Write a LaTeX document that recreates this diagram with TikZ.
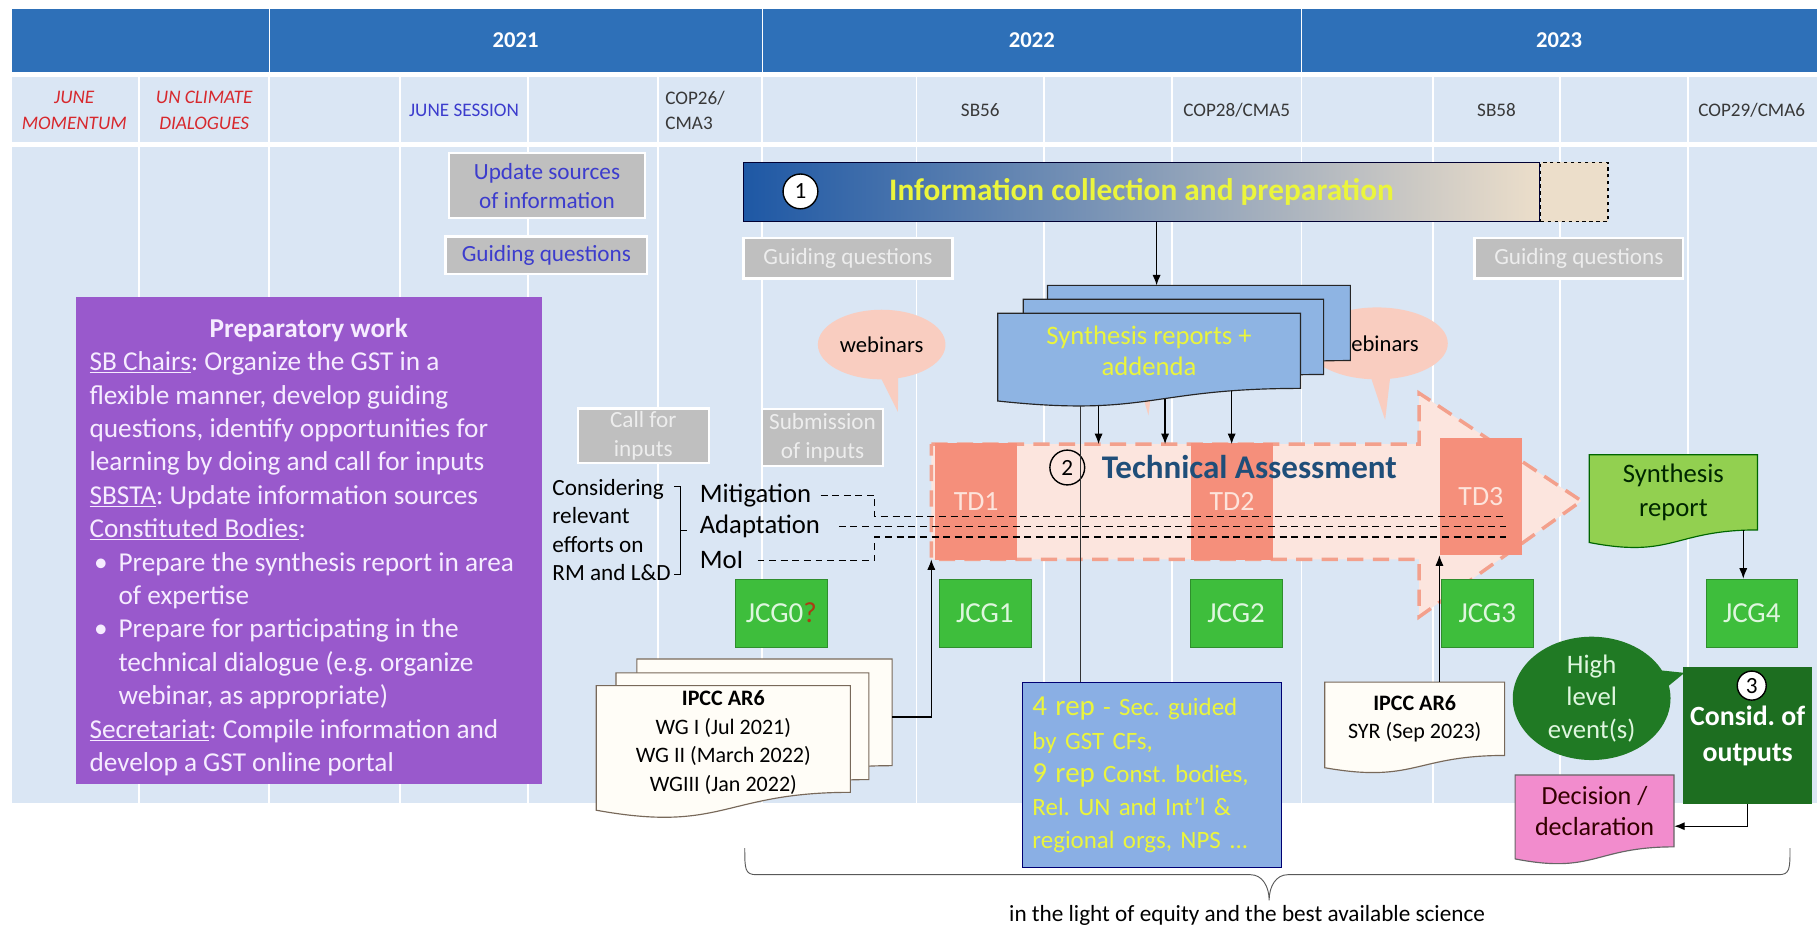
\documentclass[tikz,border=0pt]{standalone}
\usepackage{fontspec}
\setmainfont{Carlito}
\usetikzlibrary{arrows, arrows.meta, shapes, shapes.callouts, positioning}
\frenchspacing

\pgfdeclarelayer{grid}
\pgfdeclarelayer{shp}
\pgfsetlayers{grid,shp,main}

\definecolor{hdr}{RGB}{46,112,184}
\definecolor{lblue}{RGB}{218,230,244}
\definecolor{gbox}{RGB}{191,191,191}
\definecolor{qblue}{RGB}{60,60,205}
\definecolor{redl}{RGB}{215,40,45}
\definecolor{purp}{RGB}{153,89,204}
\definecolor{purptxt}{RGB}{246,236,255}
\definecolor{webp}{RGB}{249,205,192}
\definecolor{synfill}{RGB}{142,180,227}
\definecolor{yel}{RGB}{235,245,60}
\definecolor{barl}{RGB}{30,88,165}
\definecolor{barm}{RGB}{140,185,235}
\definecolor{barr}{RGB}{236,222,202}
\definecolor{tdc}{RGB}{245,143,123}
\definecolor{tdtxt}{RGB}{253,228,220}
\definecolor{tafill}{RGB}{252,229,222}
\definecolor{taline}{RGB}{243,160,140}
\definecolor{tablue}{RGB}{31,78,121}
\definecolor{jcg}{RGB}{62,190,60}
\definecolor{jcgtxt}{RGB}{222,246,222}
\definecolor{qmark}{RGB}{170,60,20}
\definecolor{srepc}{RGB}{146,208,80}
\definecolor{dgreen}{RGB}{32,122,36}
\definecolor{decpink}{RGB}{242,140,205}
\definecolor{docw}{RGB}{255,253,247}
\definecolor{docl}{RGB}{120,105,90}

\newcommand\docshape[6]{\path[#1] (#2,#3) -- ({#2+#4},#3) -- ({#2+#4},{#3+0.8*#5}) .. controls ({#2+0.5*#4},{#3+0.8*#5}) and ({#2+0.5*#4},{#3+1.107*#5}) .. (#2,{#3+0.934*#5}) #6 -- cycle;}

\begin{document}
\begin{tikzpicture}[x=1pt, y=-1pt, >={Latex[length=9pt,width=7pt]},
    font=\fontsize{20}{24}\selectfont,
    yr/.style={text=white, font=\fontsize{19.5}{23}\selectfont\bfseries},
    lbl/.style={text=black!78, align=center, font=\fontsize{16.5}{22}\selectfont},
    redlbl/.style={lbl, text=redl, font=\fontsize{16.5}{22}\selectfont\itshape},
    gbx/.style={fill=gbox, draw=white, line width=2pt, inner sep=0pt, align=center, font=\fontsize{20}{25}\selectfont},
    web/.style={ellipse callout, fill=webp, inner sep=0pt, font=\fontsize{19.5}{23}\selectfont},
    num/.style={circle, draw, line width=1.2pt, minimum size=30pt, inner sep=0pt, font=\fontsize{20}{24}\selectfont},
    td/.style={fill=tdc, text=tdtxt, minimum width=71pt, minimum height=101pt, inner sep=0pt, font=\fontsize{24}{28}\selectfont},
    jcgbox/.style={fill=jcg, draw=jcg!75!black, text=jcgtxt, minimum width=79pt, minimum height=59pt, inner sep=0pt, font=\fontsize{25}{30}\selectfont},
    doc/.style={draw=docl, fill=docw, line width=1pt},
    doctxt/.style={inner sep=0pt, align=center},
    dl/.style={dashed, dash pattern=on 6pt off 4pt, line width=1.2pt},
    conn/.style={->, line width=1pt}]
\useasboundingbox (0,0) rectangle (1568,800);

\begin{pgfonlayer}{grid}
\fill[hdr] (10,8) rectangle (1566,62);
\fill[lblue] (10,66) rectangle (1566,692);
\fill[white] (10,122) rectangle (1566,127);
\foreach \x in {232,657,1122} \draw[white, line width=1pt] (\x,8) -- (\x,62);
\foreach \x in {120,232,345,455,567,657,790,900,1010,1122,1235,1345,1455}
  \draw[white, line width=1.5pt] (\x,66) -- (\x,692);
\end{pgfonlayer}

\node[yr] (y21) at (444.5,35) {2021};
\node[yr] (y22) at (889.5,35) {2022};
\node[yr] (y23) at (1344,35) {2023};

\node[redlbl] (jmom) at (64,95) {JUNE\\MOMENTUM};
\node[redlbl] (uncd) at (176,95) {UN CLIMATE\\DIALOGUES};
\node[lbl, text=qblue] (jses) at (400,95) {JUNE SESSION};
\node[lbl, align=left, anchor=west] (cop26) at (570,95) {COP26/\\CMA3};
\node[lbl] (sb56) at (845,95) {SB56};
\node[lbl] (cop28) at (1066,95) {COP28/CMA5};
\node[lbl] (sb58) at (1290,95) {SB58};
\node[lbl] (cop29) at (1510,95) {COP29/CMA6};

\node[gbx, text=qblue, minimum width=169pt, minimum height=56pt] (upd) at (471.5,160) {Update sources\\of information};
\node[gbx, text=qblue, minimum width=174pt, minimum height=32pt] (gq1) at (471,220) {Guiding questions};
\node[gbx, text=black!7, minimum width=180pt, minimum height=35pt] (gq2) at (731,222.5) {Guiding questions};
\node[gbx, text=black!7, minimum width=180pt, minimum height=35pt] (gq3) at (1361,222.5) {Guiding questions};
\node[gbx, text=black!7, minimum width=113pt, minimum height=47pt] (cfi) at (554.5,375.5) {Call for\\inputs};
\node[gbx, text=black!7, minimum width=104pt, minimum height=49pt] (soi) at (709,377) {Submission\\of inputs};

\node[left color=barl, middle color=barm, right color=barr, draw=black!80!blue, line width=1.2pt,
  minimum width=686pt, minimum height=51pt, text=yel, font=\fontsize{27}{32}\selectfont\bfseries] (info) at (984,165.5) {Information collection and preparation};
\node[right=0pt of info, minimum width=58pt, minimum height=51pt, inner sep=0pt, fill=barr, draw, dashed, line width=1pt] (infx) {};
\node[num, fill=white] (c1) at (690,165) {1};

\node[fill=purp, minimum width=402pt, minimum height=420pt, anchor=north west] (prep) at (65,256) {};
\node[below right=18pt and 12pt of prep.north west, inner sep=0pt, text=purptxt, align=left,
  font=\fontsize{23.5}{28.8}\selectfont] (preptxt) {\makebox[378pt]{\bfseries Preparatory work}\\
\underline{SB Chairs}: Organize the GST in a\\
flexible manner, develop guiding\\
questions, identify opportunities for\\
learning by doing and call for inputs\\
\underline{SBSTA}: Update information sources\\
\underline{Constituted Bodies}:\\
\makebox[25pt][l]{\hspace*{4pt}\textbullet}Prepare the synthesis report in area\\
\hspace*{25pt}of expertise\\
\makebox[25pt][l]{\hspace*{4pt}\textbullet}Prepare for participating in the\\
\hspace*{25pt}technical dialogue (e.g. organize\\
\hspace*{25pt}webinar, as appropriate)\\
\underline{Secretariat}: Compile information and\\
develop a GST online portal};

\node[minimum width=420pt, minimum height=99pt, inner sep=0pt] (ta) at (1013,432.5) {};

\begin{pgfonlayer}{shp}
\path[fill=tafill, draw=taline, line width=3pt, dash pattern=on 14pt off 8pt] (ta.north west) -- (ta.north east)
  -- ++(0,-44) -- ++(140,93) -- ++(-140,100) -- (ta.south east) -- (ta.south west) -- cycle;
\node[web, minimum width=110pt, minimum height=60pt, callout absolute pointer={(774,355)}] (web1) at (760,297) {webinars};
\node[web, minimum width=100pt, minimum height=55pt, callout absolute pointer={(990,358)}] (web0) at (985,300) {};
\node[web, minimum width=122pt, minimum height=62pt, callout absolute pointer={(1194,362)}] (web2) at (1187,296) {webinars};
\docshape{doc, draw=black!85, fill=synfill}{903}{246}{261}{81}{}
\docshape{doc, draw=black!85, fill=synfill}{882}{258}{259}{81}{}
\docshape{doc, draw=black!85, fill=synfill}{860}{270}{261}{81}{coordinate[pos=0.18] (w3) coordinate[pos=0.43] (w2) coordinate[pos=0.71] (w1) coordinate[pos=0.775] (w0)}
\docshape{doc}{549}{568}{220}{115}{}
\docshape{doc}{531}{580}{218}{115}{}
\docshape{doc}{514}{591}{219}{115}{}
\docshape{doc}{1142}{588}{155}{79}{}
\docshape{doc, draw=black!60!green, fill=srepc}{1370}{392}{145}{81}{coordinate[pos=0.06] (sr1)}
\docshape{doc, draw=black!60, fill=decpink}{1306}{668}{137}{77.5}{}
\end{pgfonlayer}

\node[doctxt, minimum width=261pt, minimum height=65pt, text=yel, font=\fontsize{23}{27}\selectfont] (syn) at (990.5,302.5) {Synthesis reports +\\addenda};
\coordinate (synt) at (997,246);
\draw[conn] (info.south -| synt) -- (synt);

\node[td] (td1) at (841.5,432.5) {TD1};
\node[td] (td2) at (1062,432.5) {TD2};
\node[td] (td3) at (1276.5,428) {TD3};
\node[num] (c2) at (920,403) {2};
\node[right=14pt of c2, inner sep=0pt, text=tablue, font=\fontsize{28.5}{33}\selectfont\bfseries] (tatxt) {Technical Assessment};

\foreach \w in {w1,w2,w3} \draw[conn] (\w) -- (\w |- ta.north);

\node[anchor=west, align=left, inner sep=0pt, font=\fontsize{20}{24.5}\selectfont] (effort) at (476,457) {Considering\\relevant\\efforts on\\RM and L\&D};
\draw[line width=0.8pt] ([xshift=3pt,yshift=-6pt]effort.north east) -- ++(5,0) -- ++(0,38) -- ++(6,0) ++(-6,0) -- ++(0,38) -- ++(-5,0);
\node[anchor=west, inner sep=0pt, font=\fontsize{23}{27}\selectfont] (mit) at (603,427) {Mitigation};
\node[anchor=west, inner sep=0pt, font=\fontsize{23}{27}\selectfont] (ada) at (603,454) {Adaptation};
\node[anchor=west, inner sep=0pt, font=\fontsize{23}{27}\selectfont] (moi) at (603,483) {MoI};
\coordinate (jm) at (754,445);
\coordinate (jo) at (754,463);
\coordinate (mend) at (1298,445);
\coordinate (aend) at (1298,454);
\coordinate (oend) at (1298,463);
\draw[dl] ([xshift=8pt]mit.east) -| (jm) -- (mend);
\draw[dl] ([xshift=16pt]ada.east) -- (aend);
\draw[dl] ([xshift=12pt]moi.east) -| (jo) -- (oend);

\node[jcgbox] (jcg0) at (673.5,528.5) {JCG0\textcolor{qmark}{?}};
\foreach \i/\x in {1/849, 2/1065.5, 3/1282, 4/1510} \node[jcgbox] (jcg\i) at (\x,528.5) {JCG\i};

\node[doctxt, minimum width=219pt, minimum height=92pt, font=\fontsize{19}{24.5}\selectfont] (ipcc) at (623.5,640) {\textbf{IPCC AR6}\\WG I (Jul 2021)\\WG II (March 2022)\\WGIII (Jan 2022)};
\coordinate (ipo) at (769,618);
\draw[conn] (ipo) -| (ta.south west);

\node[doctxt, minimum width=155pt, minimum height=63pt, anchor=north, font=\fontsize{19}{24.5}\selectfont] (syr) at (1219.5,588) {\textbf{IPCC AR6}\\SYR (Sep 2023)};
\draw[conn] (syr.north -| td3.west) -- (td3.south west);

\node[fill=synfill!97!blue, draw=black!55!blue, line width=0.8pt, text width=206pt, inner sep=9pt, minimum height=160pt,
  align=left, text=yel, font=\fontsize{21.5}{28.5}\selectfont] (rep) at (993,668)
  {{\fontsize{25}{28.5}\selectfont 4 rep} - Sec. guided\\by GST CFs,\\{\fontsize{25}{28.5}\selectfont 9 rep} Const. bodies,\\Rel. UN and Int'l \&\\regional orgs, NPS ...};
\draw[line width=0.8pt, black!80] (w0) -- (w0 |- rep.north);

\node[doctxt, minimum width=145pt, minimum height=65pt, text=black!85!green, font=\fontsize{23}{29}\selectfont] (srep) at (1442.5,424.5) {Synthesis\\report};
\draw[conn] (sr1) -- (sr1 |- jcg4.north);

\node[ellipse callout, fill=dgreen, text=jcgtxt, minimum width=136pt, minimum height=94pt, inner sep=0pt, align=center,
  callout absolute pointer={(1452,580)}, font=\fontsize{23}{28}\selectfont] (hle) at (1372,602) {High\\level\\event(s)};
\node[fill=dgreen!90!black, minimum width=111pt, minimum height=118pt, inner sep=0pt, align=center, text=white,
  font=\fontsize{24}{31}\selectfont\bfseries] (consid) at (1506.5,634) {Consid. of\\outputs};
\node[num, fill=white, minimum size=25pt] (c3) at (1510,591) {3};

\node[doctxt, minimum width=137pt, minimum height=62pt, anchor=north, text=black!80!red, font=\fontsize{22.5}{27}\selectfont] (dec) at (1374.5,668) {Decision /\\declaration};
\draw[conn] (consid.south) |- ([yshift=-13pt]dec.east);

\coordinate (bl) at (642,731);
\coordinate (bt) at (1094,776);
\coordinate (br) at (1543,731);
\draw[black!65, line width=0.8pt] (bl) .. controls +(0,18) and +(-10,0) .. (652,754) -- (1078,754)
  .. controls +(10,0) and +(0,-12) .. (bt) .. controls +(0,-12) and +(-10,0) .. (1110,754) -- (1533,754)
  .. controls +(10,0) and +(0,18) .. (br);
\node[font=\fontsize{20}{24}\selectfont] (lite) at (1075,789) {in the light of equity and the best available science};
\end{tikzpicture}
\end{document}
